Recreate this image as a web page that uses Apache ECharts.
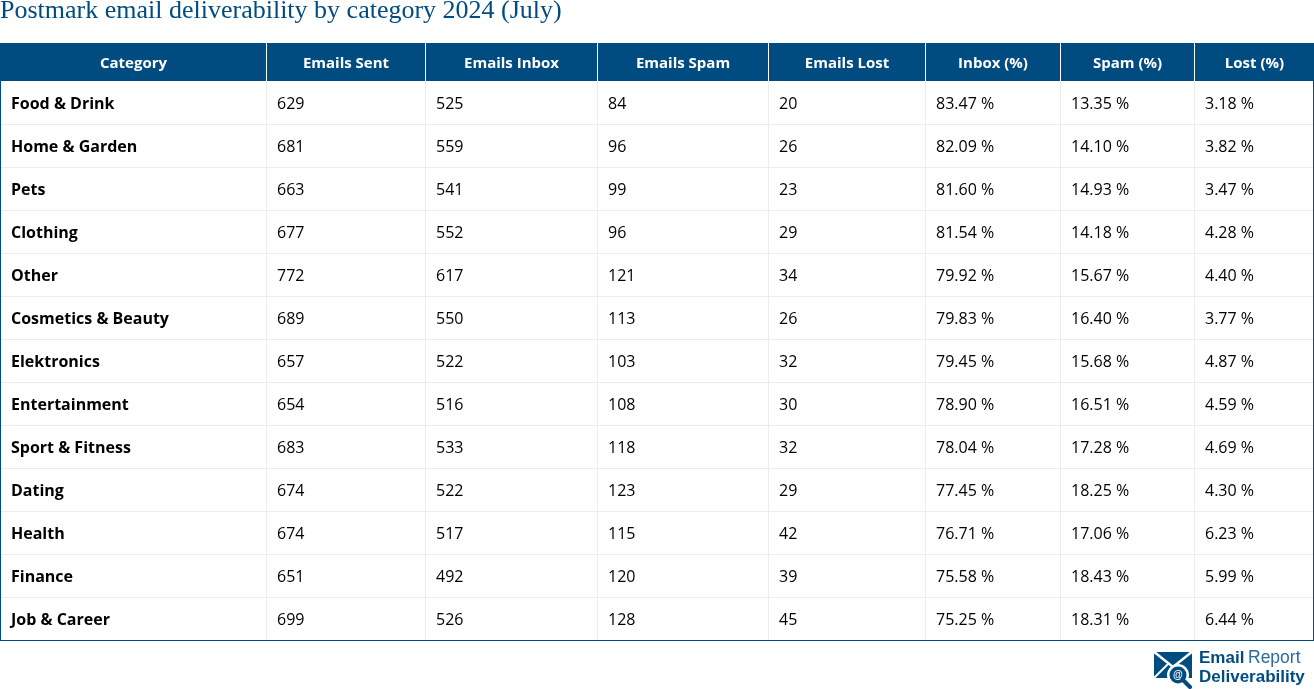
<!DOCTYPE html>
<html><head><meta charset="utf-8">
<style>html,body{margin:0;padding:0;background:#fff}#c{width:1314px;height:689px}</style>
<script src="https://cdn.jsdelivr.net/npm/echarts@6/dist/echarts.min.js"></script>
</head><body><div id="c"></div>
<script>
const columnHeaders = ['Category','Emails Sent','Emails Inbox','Emails Spam','Emails Lost','Inbox (%)','Spam (%)','Lost (%)'];
const categories = ['Food & Drink','Home & Garden','Pets','Clothing','Other','Cosmetics & Beauty','Elektronics','Entertainment','Sport & Fitness','Dating','Health','Finance','Job & Career'];
const emailsSent = [629,681,663,677,772,689,657,654,683,674,674,651,699];
const emailsInbox = [525,559,541,552,617,550,522,516,533,522,517,492,526];
const emailsSpam = [84,96,99,96,121,113,103,108,118,123,115,120,128];
const emailsLost = [20,26,23,29,34,26,32,30,32,29,42,39,45];
const inboxPct = [83.47,82.09,81.60,81.54,79.92,79.83,79.45,78.90,78.04,77.45,76.71,75.58,75.25];
const spamPct = [13.35,14.10,14.93,14.18,15.67,16.40,15.68,16.51,17.28,18.25,17.06,18.43,18.31];
const lostPct = [3.18,3.82,3.47,4.28,4.40,3.77,4.87,4.59,4.69,4.30,6.23,5.99,6.44];
const columnEdges = [0,266,425,597,768,925,1060,1194,1314];

const BLUE='#004b80', LINE='#ececec', FONT='"Open Sans"';
const pct=v=>v.toFixed(2)+' %';
const columns=[categories,emailsSent,emailsInbox,emailsSpam,emailsLost,inboxPct.map(pct),spamPct.map(pct),lostPct.map(pct)];
const bodyData=[];
categories.forEach((_,r)=>columns.forEach((col,c)=>bodyData.push([c,r,String(col[r])])));
const headerData=columnHeaders.map((h,c)=>[c,0,h]);
const nCols=columnHeaders.length,nRows=categories.length;

function edge(api,i){return Math.round(api.coord([columnEdges[i],0])[0]);}

function renderHeader(params,api){
  const c=api.value(0), x0=edge(api,c), x1=edge(api,c+1);
  const top=params.coordSys.y, h=params.coordSys.height;
  return {type:'group',children:[
    {type:'rect',shape:{x:x0,y:top,width:x1-x0,height:h},style:{fill:BLUE},silent:true},
    c>0?{type:'rect',shape:{x:x0,y:top,width:1,height:h},style:{fill:'#fff'},silent:true}:{type:'group'},
    {type:'text',x:(x0+x1)/2+0.5,y:top+h/2+1.5,style:{text:columnHeaders[c],fill:'#fff',font:'bold 15px '+FONT,align:'center',verticalAlign:'middle'},silent:true}
  ]};
}
function renderBody(params,api){
  const c=api.value(0), r=api.value(1), x0=edge(api,c), x1=edge(api,c+1);
  const mid=api.coord([0,r])[1], bh=api.size([0,1])[1];
  const y0=Math.round(mid-bh/2), y1=Math.round(mid+bh/2);
  const kids=[];
  if(c>0)kids.push({type:'rect',shape:{x:x0,y:y0,width:1,height:y1-y0},style:{fill:LINE}});
  kids.push({type:'rect',shape:{x:x0,y:y1-1,width:x1-x0,height:1},style:{fill:r<nRows-1?LINE:BLUE}});
  if(c===0)kids.push({type:'rect',shape:{x:0,y:y0-1,width:1,height:y1-y0+1},style:{fill:BLUE}});
  if(c===nCols-1)kids.push({type:'rect',shape:{x:x1-1,y:y0-1,width:1,height:y1-y0+1},style:{fill:BLUE}});
  kids.push({type:'text',x:x0+11,y:y0+22,style:{text:api.value(2),fill:'#000',font:(c===0?'bold ':'')+'16px '+FONT,align:'left',verticalAlign:'middle'}});
  kids.forEach(k=>k.silent=true);
  return {type:'group',children:kids};
}

const chart=echarts.init(document.getElementById('c'),null,{renderer:'canvas',width:1314,height:689});
const xA=i=>({type:'value',gridIndex:i,min:0,max:1314,show:false});
chart.setOption({
  animation:false,
  backgroundColor:'#fff',
  title:{text:'Postmark email deliverability by category 2024 (July)',left:0,top:-2,padding:0,
    textStyle:{fontFamily:'"Liberation Serif"',fontWeight:'normal',fontSize:26,color:'#004b80'}},
  grid:[
    {left:0,right:0,top:43,height:38},
    {left:0,right:0,top:82,height:559}
  ],
  xAxis:[xA(0),xA(1)],
  yAxis:[
    {type:'category',gridIndex:0,data:['header'],show:false},
    {type:'category',gridIndex:1,data:categories,inverse:true,show:false}
  ],
  series:[
    {type:'custom',xAxisIndex:0,yAxisIndex:0,data:headerData,renderItem:renderHeader,encode:{x:0,y:1},clip:false,silent:true},
    {type:'custom',xAxisIndex:1,yAxisIndex:1,data:bodyData,renderItem:renderBody,encode:{x:0,y:1},clip:false,silent:true,
     dimensions:[{name:'col',type:'number'},{name:'row',type:'number'},{name:'text',type:'ordinal'}]}
  ],
  graphic:[
    {type:'polygon',shape:{points:[[1154,652],[1192,652],[1192,678],[1154,678]]},style:{fill:BLUE},silent:true},
    {type:'polyline',shape:{points:[[1153,651],[1173,667],[1193,651]]},style:{stroke:'#fff',lineWidth:2.5,fill:null},silent:true},
    {type:'line',shape:{x1:1153,y1:679,x2:1168,y2:664},style:{stroke:'#fff',lineWidth:2},silent:true},
    {type:'circle',shape:{cx:1178,cy:675,r:11},style:{fill:'#fff'},silent:true},
    {type:'line',shape:{x1:1184,y1:681,x2:1190,y2:687},style:{stroke:BLUE,lineWidth:4,lineCap:'round'},silent:true},
    {type:'circle',shape:{cx:1178,cy:675,r:8.5},style:{fill:BLUE},silent:true},
    {type:'text',x:1178,y:675,style:{text:'@',fill:'#fff',font:'bold 10px "Liberation Sans"',align:'center',verticalAlign:'middle'},silent:true},
    {type:'text',x:1199,y:658.5,style:{text:'Email',fill:BLUE,font:'bold 17px "Liberation Sans"',align:'left',verticalAlign:'middle'},silent:true},
    {type:'text',x:1248,y:658.5,style:{text:'Report',fill:'#2d6a9f',font:'17.5px "Liberation Sans"',align:'left',verticalAlign:'middle'},silent:true},
    {type:'text',x:1199,y:677,style:{text:'Deliverability',fill:BLUE,font:'bold 17px "Liberation Sans"',align:'left',verticalAlign:'middle'},silent:true}
  ]
});
</script></body></html>
